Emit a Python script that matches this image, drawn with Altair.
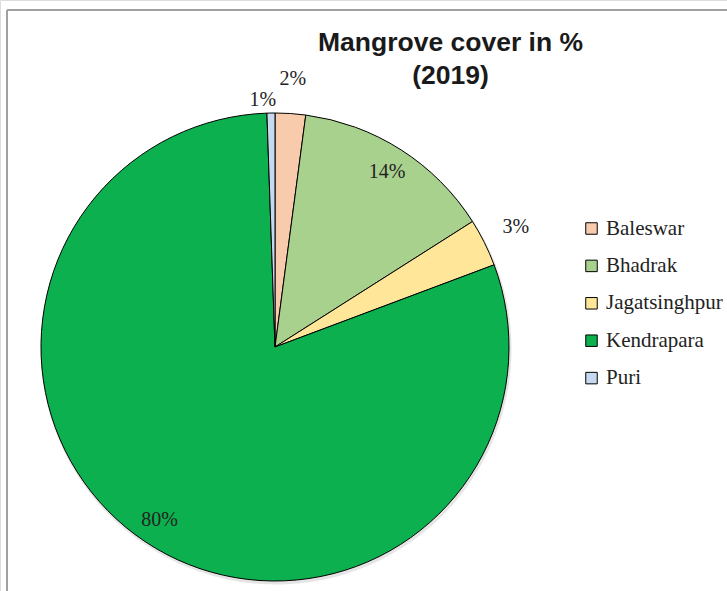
import altair as alt
import pandas as pd

# Share of mangrove cover by district, 2019 (in %)
districts = ["Baleswar", "Bhadrak", "Jagatsinghpur", "Kendrapara", "Puri"]
cover = [2.1, 13.9, 3.3, 80.2, 0.55]
colors = ["#F8CBAD", "#A9D18E", "#FFE699", "#0CB04E", "#C5D9F1"]

inside_labels = ["Bhadrak", "Kendrapara"]
outside_labels = ["Baleswar", "Jagatsinghpur"]
left_labels = ["Puri"]

df = pd.DataFrame({"district": districts, "cover": cover, "order": list(range(len(districts)))})

W, H = 727, 591
CX, CY, R = 275, 347, 234
SERIF = "Liberation Serif"
SANS = "Liberation Sans"

base = (
    alt.Chart(df)
    .transform_window(cum="sum(cover)", sort=[alt.SortField("order")], frame=[None, 0])
    .transform_joinaggregate(total="sum(cover)")
    .transform_calculate(
        start="(datum.cum - datum.cover) / datum.total",
        end="datum.cum / datum.total",
        mid="(datum.cum - datum.cover / 2) / datum.total",
        pct="datum.cover / datum.total",
    )
    .transform_calculate(label="format(datum.pct, '.0%')")
)

theta_scale = alt.Scale(domain=[0, 1], range=[0, 6.283185307179586])

# soft drop shadow under the slices
shadow = base.mark_arc(outerRadius=R + 1.5, color="#000000", opacity=0.10).encode(
    theta=alt.Theta("start:Q", scale=theta_scale, stack=None),
    theta2="end:Q",
    x=alt.value(CX + 1),
    y=alt.value(CY + 2),
)

pie = base.mark_arc(outerRadius=R, stroke="black", strokeWidth=1).encode(
    theta=alt.Theta("start:Q", scale=theta_scale, stack=None),
    theta2="end:Q",
    color=alt.Color(
        "district:N",
        scale=alt.Scale(domain=districts, range=colors),
        legend=alt.Legend(
            title=None,
            orient="none",
            legendX=581,
            legendY=218,
            symbolType="square",
            symbolSize=132,
            symbolStrokeColor="black",
            symbolStrokeWidth=1,
            symbolOpacity=1,
            labelFont=SERIF,
            labelFontSize=21,
            labelColor="#222222",
            labelOffset=4,
            rowPadding=15.4,
            padding=0,
        ),
    ),
    x=alt.value(CX),
    y=alt.value(CY),
)


def labels(names, radius, dx=0):
    return (
        base.transform_filter(alt.FieldOneOfPredicate(field="district", oneOf=names))
        .mark_text(radius=radius, dx=dx, font=SERIF, fontSize=20, color="#222222",
                   align="center", baseline="middle")
        .encode(
            theta=alt.Theta("mid:Q", scale=theta_scale, stack=None),
            text="label:N",
            x=alt.value(CX),
            y=alt.value(CY),
        )
    )


frame_src = alt.Chart(pd.DataFrame({"edge": ["frame"]}))
frame_top = frame_src.mark_rule(color="#A0A0A0", strokeWidth=2).encode(
    x=alt.value(7), x2=alt.value(W), y=alt.value(10)
)
frame_left = frame_src.mark_rule(color="#A0A0A0", strokeWidth=2).encode(
    x=alt.value(7), y=alt.value(10), y2=alt.value(H)
)

chart = (
    alt.layer(
        frame_top,
        frame_left,
        shadow,
        pie,
        labels(inside_labels, 208),
        labels(outside_labels, 269),
        labels(left_labels, 247, dx=-8),
    )
    .properties(
        width=W,
        height=H,
        padding=0,
        autosize=alt.AutoSizeParams(type="none"),
        title=alt.TitleParams(
            text=["Mangrove cover in %", "(2019)"],
            font=SANS,
            fontSize=26.5,
            fontWeight="bold",
            color="#1a1a1a",
            anchor="middle",
            baseline="top",
            lineHeight=33,
            offset=0,
            dx=87,
            dy=89,
        ),
    )
    .configure_view(stroke=None)
    .configure(background="white")
)

chart.save("out.html", embed_options={"renderer": "svg", "actions": False})
